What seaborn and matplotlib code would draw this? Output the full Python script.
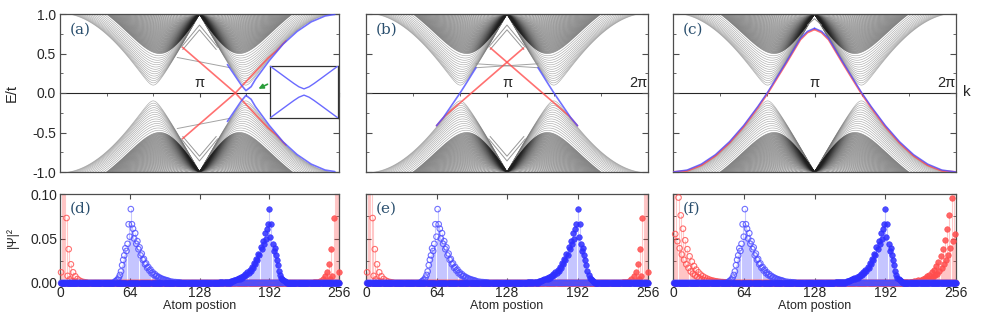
import numpy as np
import pandas as pd
import matplotlib
matplotlib.use('Agg')
import matplotlib.pyplot as plt
from matplotlib.collections import LineCollection
from matplotlib.ticker import MultipleLocator, FormatStrFormatter
import seaborn as sns

sns.set_style('ticks')
plt.rcParams['font.family'] = ['Liberation Sans', 'DejaVu Sans']
plt.rcParams['axes.unicode_minus'] = False

pi = np.pi

# ---------------- band structure data ----------------
# band minima of the bulk subbands at each valley (sparse low subbands, dense high subbands)
gap_low, gap_mid, gap_top = 0.10, 0.50, 0.995
n_low, n_high = 14, 55

# edge states, k in units of pi
a_blue_k = [1.20, 1.25, 1.30, 1.333, 1.37, 1.40, 1.50, 1.60, 1.70, 1.80, 1.90, 1.97]
a_blue_e = [0.36, 0.23, 0.10, 0.03, 0.08, 0.17, 0.41, 0.62, 0.78, 0.90, 0.975, 0.995]
a_red_k = [0.879, 1.257, 1.49, 1.55, 1.62]
a_red_e = [0.577, 0.0, -0.44, -0.53, -0.66]
a_gray_k = [0.84, 1.22]
a_gray_e = [0.45, 0.32]

b_blue_k = [0.50, 0.55, 0.60, 0.667, 0.70, 0.75, 0.78]
b_blue_e = [-0.414, -0.307, -0.176, 0.0, 0.092, 0.235, 0.32]
b_red_k = [0.50, 0.56, 1.117]
b_red_e = [-0.414, -0.29, 0.57]
b_gray_k = [0.78, 1.22]
b_gray_e = [0.32, 0.37]

c_edge_k = [0.0, 0.1, 0.2, 0.3, 0.4, 0.5, 0.6, 0.667, 0.7, 0.8, 0.9, 0.95, 1.0]
c_blue_e = [-1.0, -0.975, -0.90, -0.78, -0.615, -0.41, -0.17, 0.005, 0.10, 0.39, 0.69, 0.78, 0.82]
c_red_e = [-1.0, -0.985, -0.915, -0.795, -0.63, -0.425, -0.185, -0.01, 0.085, 0.375, 0.675, 0.765, 0.805]

# small "tent" subbands just below the apex at k = pi
tent_k = [[0.87, 1.0, 1.13], [0.88, 1.0, 1.12]]
tent_e = [[0.58, 0.86, 0.58], [0.55, 0.80, 0.55]]
c_tent_k = [0.95, 1.0, 1.05]
c_tent_e = [0.86, 0.94, 0.86]

# inset of (a): anticrossing of the blue states
inset_k = [-1.0, -0.75, -0.5, -0.3, -0.15, 0.0, 0.15, 0.3, 0.5, 0.75, 1.0]
inset_e = [1.0, 0.76, 0.52, 0.33, 0.2, 0.12, 0.2, 0.33, 0.52, 0.76, 1.0]

# ---------------- wavefunction data ----------------
blue_open_pos = list(range(50, 101)) + [102, 104, 106, 108, 110]
blue_open_val = [0.001, 0.002, 0.003, 0.004, 0.006, 0.009, 0.013, 0.020, 0.026, 0.031,
                 0.039, 0.036, 0.044, 0.066, 0.052, 0.083,
                 0.066, 0.061, 0.050, 0.056, 0.044, 0.047, 0.038, 0.040, 0.031, 0.033,
                 0.026, 0.027, 0.021, 0.022, 0.017, 0.018, 0.014, 0.015, 0.011, 0.012,
                 0.009, 0.010, 0.0075, 0.008, 0.006, 0.0065, 0.005, 0.0052, 0.004, 0.0042,
                 0.0032, 0.0034, 0.0026, 0.0027, 0.002,
                 0.0016, 0.0012, 0.001, 0.0008, 0.0006]

red_de_pos = [1, 2, 3, 4, 5, 6, 7, 8, 9, 10, 11, 12, 13, 14, 15, 16, 18, 20, 22, 24]
red_de_val = [0.012, 0.30, 0.22, 0.16, 0.12, 0.073, 0.008, 0.038, 0.004, 0.021,
              0.002, 0.012, 0.001, 0.0075, 0.0008, 0.0045, 0.0027, 0.0016, 0.001, 0.0006]

red_f_odd_pos = list(range(1, 50, 2))
red_f_odd_val = [0.13, 0.115, 0.096, 0.076, 0.061, 0.048, 0.038, 0.030, 0.024, 0.019,
                 0.015, 0.012, 0.0095, 0.0075, 0.006, 0.0048, 0.0038, 0.003, 0.0024, 0.0019,
                 0.0015, 0.0012, 0.001, 0.0008, 0.0006]
red_f_even_pos = list(range(2, 51, 2))
red_f_even_val = [0.055, 0.047, 0.039, 0.032, 0.026, 0.021, 0.017, 0.013, 0.0105, 0.0085,
                  0.0068, 0.0054, 0.0043, 0.0034, 0.0027, 0.0022, 0.0017, 0.0014, 0.0011, 0.0009,
                  0.0007, 0.0005, 0.0004, 0.0003, 0.0002]

n_atoms = 256
panel_labels_top = ['(a)', '(b)', '(c)']
panel_labels_bot = ['(d)', '(e)', '(f)']

RED = '#ff4d4d'
BLUE = '#4d4dff'
BLUE_DOT = '#2f2fff'
SPINE = '0.3'


def rect(x0, x1, y0, y1):
    return [x0 / 981, 1 - y1 / 320, (x1 - x0) / 981, (y1 - y0) / 320]


fig = plt.figure(figsize=(9.81, 3.2), dpi=100)
cols = [(60, 339), (366, 648), (673, 956)]
top_axes = [fig.add_axes(rect(x0, x1, 14, 172)) for x0, x1 in cols]
bot_axes = [fig.add_axes(rect(x0, x1, 194, 283)) for x0, x1 in cols]


def edge(ax, k, e, color, lw=1.2, alpha=0.8):
    df = pd.DataFrame({'k': np.asarray(k) * pi, 'E': e})
    sns.lineplot(data=df, x='k', y='E', sort=False, estimator=None, color=color,
                 lw=lw, alpha=alpha, ax=ax, zorder=4)


def mirror_k(k):
    return [2 - v for v in k]


def neg(e):
    return [-v for v in e]


# bulk subbands of the ribbon: E^2 = 1 + 4c^2 + 4c cos(q), c = cos(k/2);
# a subband with transverse q has its minimum |sin q| at one of the two valleys
g_min = np.concatenate([np.linspace(gap_low, gap_mid, n_low, endpoint=False),
                        np.linspace(gap_mid, gap_top, n_high)])
q_left = pi - np.arcsin(g_min)
q_right = np.arcsin(g_min)
kk = np.linspace(0, 2 * pi, 1200)
cc = np.cos(kk / 2)
light, dark = [], []
for i in range(len(g_min)):
    for q in (q_left[i], q_right[i]):
        en = np.sqrt(np.clip(1 + 4 * cc ** 2 + 4 * cc * np.cos(q), 0, None))
        tgt = light if i < n_low else dark
        tgt.append(np.column_stack([kk, en]))
        tgt.append(np.column_stack([kk, -en]))

for i, ax in enumerate(top_axes):
    ax.add_collection(LineCollection(light, colors='0.45', linewidths=0.45, alpha=0.6))
    ax.add_collection(LineCollection(dark, colors='0.12', linewidths=0.45, alpha=0.6))

    if i < 2:
        for tk, te in zip(tent_k, tent_e):
            edge(ax, tk, te, '0.55', lw=0.7, alpha=0.9)
            edge(ax, tk, neg(te), '0.55', lw=0.7, alpha=0.9)
    else:
        edge(ax, c_tent_k, c_tent_e, '0.55', lw=0.7, alpha=0.9)

    if i == 0:
        edge(ax, a_gray_k, a_gray_e, '0.55', lw=0.7)
        edge(ax, a_gray_k, neg(a_gray_e), '0.55', lw=0.7)
        edge(ax, a_red_k, a_red_e, RED)
        edge(ax, a_red_k, neg(a_red_e), RED)
        edge(ax, a_blue_k, a_blue_e, BLUE)
        edge(ax, a_blue_k, neg(a_blue_e), BLUE)
    elif i == 1:
        edge(ax, b_gray_k, b_gray_e, '0.55', lw=0.7)
        edge(ax, b_gray_k, b_gray_e[::-1], '0.55', lw=0.7)
        edge(ax, b_red_k, b_red_e, RED)
        edge(ax, mirror_k(b_red_k), b_red_e, RED)
        edge(ax, b_blue_k, b_blue_e, BLUE)
        edge(ax, mirror_k(b_blue_k), b_blue_e, BLUE)
    else:
        edge(ax, c_edge_k, c_red_e, RED, lw=1.4)
        edge(ax, mirror_k(c_edge_k), c_red_e, RED, lw=1.4)
        edge(ax, c_edge_k, c_blue_e, BLUE, lw=1.1)
        edge(ax, mirror_k(c_edge_k), c_blue_e, BLUE, lw=1.1)

    ax.set_xlim(0, 2 * pi)
    ax.set_ylim(-1, 1)
    ax.set_xlabel('')
    ax.set_ylabel('')
    ax.set_xticks([])
    ax.yaxis.set_major_locator(MultipleLocator(0.5))
    ax.yaxis.set_minor_locator(MultipleLocator(0.25))
    ax.yaxis.set_major_formatter(FormatStrFormatter('%.1f'))
    ax.tick_params(axis='y', which='both', direction='in', left=True, right=True,
                   color=SPINE, labelsize=10, labelleft=(i == 0), pad=3)
    ax.tick_params(axis='y', which='major', length=4)
    ax.tick_params(axis='y', which='minor', length=2.5)
    for sp in ax.spines.values():
        sp.set_color(SPINE)
        sp.set_linewidth(0.9)

    # k axis drawn along E = 0
    sec = ax.secondary_xaxis(0.5)
    sec.set_xticks([pi, 2 * pi], labels=['π', '2π'] if i > 0 else ['π', ''])
    sec.xaxis.set_minor_locator(MultipleLocator(pi / 3))
    sec.tick_params(which='both', direction='in', color=SPINE, labelsize=10.5, pad=2)
    sec.tick_params(which='major', length=3)
    sec.tick_params(which='minor', length=2.5)
    sec.spines['bottom'].set_color(SPINE)
    sec.spines['bottom'].set_linewidth(0.9)
    for lab in sec.get_xticklabels():
        if lab.get_text() == '2π':
            lab.set_horizontalalignment('right')

    ax.text(0.035, 0.9, panel_labels_top[i], transform=ax.transAxes, family='DejaVu Serif',
            fontsize=11, color='#2a4f6e', va='center')

# inset of (a)
ins = fig.add_axes(rect(270, 338, 66, 118))
ins.set_facecolor('white')
edge(ins, np.asarray(inset_k) / pi, inset_e, '#6a6aff', lw=1.0, alpha=1)
edge(ins, np.asarray(inset_k) / pi, neg(inset_e), '#6a6aff', lw=1.0, alpha=1)
ins.set_xlim(-1, 1)
ins.set_ylim(-1, 1)
ins.set_xticks([])
ins.set_yticks([])
ins.set_xlabel('')
ins.set_ylabel('')
for sp in ins.spines.values():
    sp.set_color('0.2')
    sp.set_linewidth(0.9)
fig.add_artist(matplotlib.patches.FancyArrowPatch(
    (270 / 981, 1 - 83 / 320), (256 / 981, 1 - 90 / 320), transform=fig.transFigure,
    arrowstyle='-|>', mutation_scale=7, color='#2a9d3a', lw=1.2))


# ---------------- bottom panels ----------------
def full_profile(pos, val):
    s = pd.Series(0.0, index=np.arange(1, n_atoms + 1))
    s.loc[pos] = val
    return s


blue_open = full_profile(blue_open_pos, blue_open_val)
blue_fill = pd.Series(blue_open.values[::-1], index=blue_open.index)
red_open_de = full_profile(red_de_pos, red_de_val)
red_open_f = full_profile(red_f_odd_pos + red_f_even_pos, red_f_odd_val + red_f_even_val)


def stems(ax, s, color, hollow, dot_color=None):
    nz = s[s > 0]
    ax.vlines(nz.index, 0, nz.values, colors=color, lw=0.8, alpha=0.3, zorder=2)
    vis = s[s <= 0.1].reset_index()
    vis.columns = ['atom', 'psi']
    dc = dot_color or color
    if hollow:
        sns.scatterplot(data=vis, x='atom', y='psi', ax=ax, marker='o', s=16,
                        facecolors='none', edgecolor=dc, linewidth=0.8, alpha=0.8,
                        clip_on=False, zorder=3)
    else:
        sns.scatterplot(data=vis, x='atom', y='psi', ax=ax, marker='o', s=16,
                        color=dc, edgecolor=dc, linewidth=0.5, alpha=0.85,
                        clip_on=False, zorder=3)


for i, ax in enumerate(bot_axes):
    red_open = red_open_f if i == 2 else red_open_de
    red_fill = pd.Series(red_open.values[::-1], index=red_open.index)
    stems(ax, red_open, RED, True)
    stems(ax, red_fill, RED, False)
    stems(ax, blue_open, BLUE, True)
    stems(ax, blue_fill, BLUE, False, BLUE_DOT)

    ax.set_xlim(0, n_atoms)
    ax.set_ylim(0, 0.1)
    ax.set_xticks([0, 64, 128, 192, 256])
    ax.yaxis.set_major_locator(MultipleLocator(0.05))
    ax.yaxis.set_minor_locator(MultipleLocator(0.025))
    ax.yaxis.set_major_formatter(FormatStrFormatter('%.2f'))
    ax.tick_params(which='both', direction='in', top=True, right=True, color=SPINE,
                   labelsize=10, labelleft=(i == 0), pad=2)
    ax.tick_params(which='major', length=3.5)
    ax.tick_params(which='minor', length=2.5)
    ax.set_xlabel('Atom postion', fontsize=9, labelpad=0)
    ax.set_ylabel('')
    for sp in ax.spines.values():
        sp.set_color(SPINE)
        sp.set_linewidth(0.9)
    ax.text(0.035, 0.83, panel_labels_bot[i], transform=ax.transAxes, family='DejaVu Serif',
            fontsize=11, color='#2a4f6e', va='center')

fig.text(12 / 981, 1 - 93 / 320, 'E/t', rotation=90, ha='center', va='center', fontsize=10.5)
fig.text(12 / 981, 1 - 238 / 320, '|Ψ|²', rotation=90, ha='center', va='center', fontsize=9)
fig.text(963 / 981, 1 - 92 / 320, 'k', ha='left', va='center', fontsize=11)

fig.savefig('out.png', dpi=100)
